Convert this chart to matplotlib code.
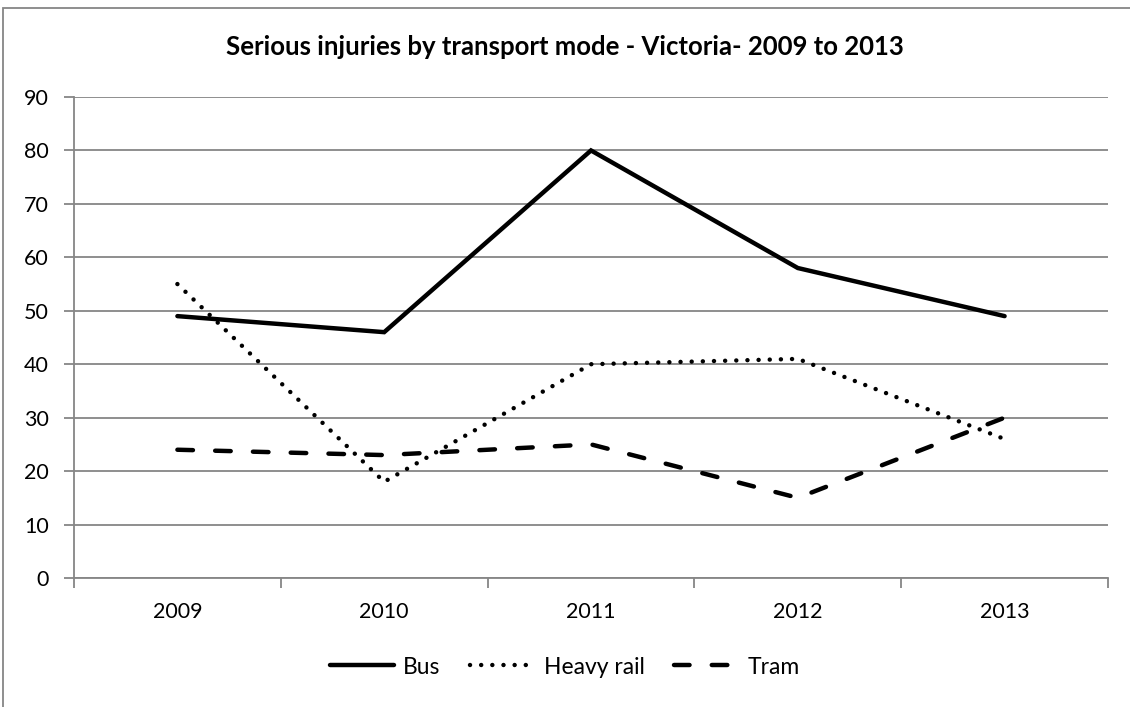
import matplotlib
matplotlib.use('Agg')
from matplotlib import pyplot as plt
from matplotlib.patches import Rectangle

years = ['2009', '2010', '2011', '2012', '2013']
bus = [49, 46, 80, 58, 49]
heavy_rail = [55, 18, 40, 41, 26]
tram = [24, 23, 25, 15, 30]

plt.rcParams['font.family'] = ['Lato', 'DejaVu Sans']
grid_col = '#868686'

fig = plt.figure(figsize=(11.3, 7.07), dpi=100)
ax = fig.add_axes([74/1130, 1-578/707, 1034/1130, 481/707])

x = list(range(len(years)))
ax.plot(x, bus, color='black', lw=3.2, solid_capstyle='round', solid_joinstyle='miter', label='Bus')
ax.plot(x, heavy_rail, color='black', lw=3.2, linestyle=(0, (0.01, 2.5)),
        dash_capstyle='round', label='Heavy rail')
ax.plot(x, tram, color='black', lw=3.2, linestyle=(0, (3.5, 5.0)),
        dash_capstyle='round', label='Tram')

ax.set_xlim(-0.5, 4.5)
ax.set_ylim(0, 90)
ax.set_yticks(range(0, 91, 10))
ax.yaxis.grid(True, color=grid_col, lw=1.3)
ax.set_axisbelow(True)
ax.set_xticks([i - 0.5 for i in range(len(years) + 1)])
ax.set_xticklabels([])
ax.set_xticks(x, minor=True)
ax.set_xticklabels(years, minor=True)
ax.tick_params(axis='x', which='major', length=7, color=grid_col, width=1.3, direction='out')
ax.tick_params(axis='x', which='minor', length=0, labelsize=15.5, pad=17)
ax.tick_params(axis='y', length=7, color=grid_col, width=1.3, labelsize=15.5, pad=11)
for s in ['top', 'right']:
    ax.spines[s].set_visible(False)
for s in ['left', 'bottom']:
    ax.spines[s].set_color(grid_col)
    ax.spines[s].set_linewidth(1.3)

fig.text(0.5, 1-47/707, 'Serious injuries by transport mode - Victoria- 2009 to 2013',
         ha='center', va='center', fontsize=18.5, fontweight='bold')

fig.legend(loc='center', bbox_to_anchor=(0.5, 1-667/707), ncol=3, frameon=False,
           fontsize=16.5, handlelength=2.8, columnspacing=1.3, handletextpad=0.4)

fig.patches.append(Rectangle((3/1130, -0.1), 1.2, 1.1 - 8/707, transform=fig.transFigure,
                             fill=False, edgecolor=grid_col, lw=1.3))

fig.savefig('out.png', dpi=100)
